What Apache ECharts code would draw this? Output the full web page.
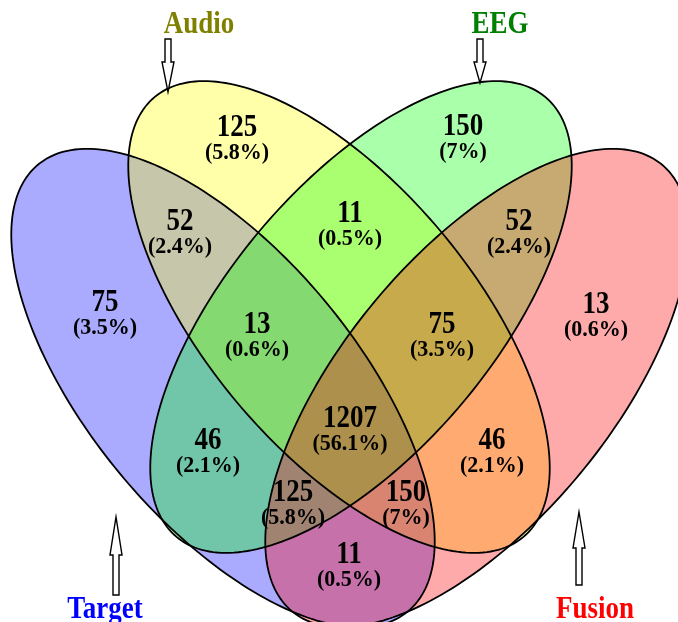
<!DOCTYPE html>
<html><head><meta charset="utf-8">
<script src="https://cdn.jsdelivr.net/npm/echarts@6/dist/echarts.min.js"></script>
<style>html,body{margin:0;padding:0;background:#fff}#c{width:678px;height:622px}</style>
</head><body><div id="c"></div>
<script>
// ---- data ----
const setNames = ['Target', 'Audio', 'EEG', 'Fusion'];
const regionNames = ['Audio only', 'EEG only', 'Target∩Audio', 'Audio∩EEG', 'EEG∩Fusion', 'Target only', 'Fusion only',
  'Target∩Audio∩EEG', 'Audio∩EEG∩Fusion', 'All four', 'Target∩EEG', 'Audio∩Fusion', 'Target∩EEG∩Fusion',
  'Target∩Audio∩Fusion', 'Target∩Fusion'];
const regionCounts = [125, 150, 52, 11, 52, 75, 13, 13, 75, 1207, 46, 46, 125, 150, 11];
const regionPct = ['(5.8%)', '(7%)', '(2.4%)', '(0.5%)', '(2.4%)', '(3.5%)', '(0.6%)', '(0.6%)', '(3.5%)', '(56.1%)',
  '(2.1%)', '(2.1%)', '(5.8%)', '(7%)', '(0.5%)'];

// ---- layout (data units = pixels) ----
const ellCx = [223, 339, 361, 477];
const ellCy = [388, 317, 317, 388];
const ellA = [290, 287, 287, 290];
const ellB = [134, 133, 133, 134];
const ellAngle = [50.4, 50, -50, -50.4];
const labelX = [237, 463, 180, 350, 519, 105, 596, 257, 442, 350, 208, 492, 293, 406, 349];
const labelY = [128, 127, 222, 214, 222, 303, 305, 325, 325, 419, 441, 441, 493, 493, 555];
const catX = [105, 199, 500, 595];
const catY = [610, 25, 25, 610];
const arrowX = [116, 168, 480, 579];
const arrowTip = [517, 92, 83, 512];
const arrowNeck = [555, 62, 62, 548];
const arrowTail = [595, 39, 39, 585];

// ---- styles ----
const setColors = ['#0000ff', '#808000', '#008000', '#ff0000'];
const setFills = ['rgba(0,0,255,0.333)', 'rgba(255,255,0,0.333)', 'rgba(0,255,0,0.333)', 'rgba(255,0,0,0.333)'];
const FONT = '"Liberation Serif","Times New Roman",serif';

function ellipsePoints(api) {
  const cx = api.value(0), cy = api.value(1), a = api.value(2), b = api.value(3), ang = api.value(4) * Math.PI / 180;
  const ca = Math.cos(ang), sa = Math.sin(ang);
  const pts = [];
  for (let k = 0; k < 240; k++) {
    const t = k / 240 * Math.PI * 2;
    const x = cx + a * Math.cos(t) * ca - b * Math.sin(t) * sa;
    const y = cy + a * Math.cos(t) * sa + b * Math.sin(t) * ca;
    pts.push(api.coord([x, y]));
  }
  return pts;
}

const ellData = setNames.map((n, i) => ({ name: n, value: [ellCx[i], ellCy[i], ellA[i], ellB[i], ellAngle[i], i] }));

const chart = echarts.init(document.getElementById('c'), null, { renderer: 'canvas' });
chart.setOption({
  animation: false,
  backgroundColor: '#ffffff',
  grid: { left: 0, right: 0, top: 0, bottom: 0 },
  xAxis: { type: 'value', min: 0, max: 678, show: false },
  yAxis: { type: 'value', min: 0, max: 622, inverse: true, show: false },
  series: [
    {
      type: 'custom', silent: true, clip: false, encode: { x: 0, y: 1 },
      data: ellData,
      renderItem: (params, api) => ({
        type: 'polygon', shape: { points: ellipsePoints(api) },
        style: { fill: setFills[api.value(5)], stroke: null }
      })
    },
    {
      type: 'custom', silent: true, clip: false, encode: { x: 0, y: 1 },
      data: ellData,
      renderItem: (params, api) => ({
        type: 'polygon', shape: { points: ellipsePoints(api) },
        style: { fill: null, stroke: '#000', lineWidth: 1.8 }
      })
    },
    {
      type: 'custom', silent: true, clip: false, encode: { x: 0, y: 1 },
      data: regionCounts.map((c, i) => [labelX[i], labelY[i], c, i]),
      renderItem: (params, api) => {
        const i = api.value(3);
        const p = api.coord([api.value(0), api.value(1)]);
        const q = api.coord([api.value(0), api.value(1) + 25]);
        return {
          type: 'group', children: [
            { type: 'text', x: p[0], y: p[1], scaleY: 1.15,
              style: { text: String(api.value(2)), x: 0, y: 0, align: 'center', verticalAlign: 'middle',
                fontFamily: FONT, fontWeight: 'bold', fontSize: 27, fill: '#000' } },
            { type: 'text', x: q[0], y: q[1], scaleY: 1.05,
              style: { text: regionPct[i], x: 0, y: 0, align: 'center', verticalAlign: 'middle',
                fontFamily: FONT, fontWeight: 'bold', fontSize: 22, fill: '#000' } }
          ]
        };
      }
    },
    {
      type: 'custom', silent: true, clip: false, encode: { x: 0, y: 1 },
      data: setNames.map((n, i) => [arrowX[i], arrowTip[i], arrowNeck[i], arrowTail[i]]),
      renderItem: (params, api) => {
        const x = api.value(0), tip = api.value(1), neck = api.value(2), tail = api.value(3);
        const pts = [[x - 3, tail], [x - 3, neck], [x - 6, neck], [x, tip], [x + 6, neck], [x + 3, neck], [x + 3, tail]]
          .map(pt => api.coord(pt));
        return { type: 'polygon', shape: { points: pts }, style: { fill: '#fff', stroke: '#000', lineWidth: 1.4 } };
      }
    },
    {
      type: 'custom', silent: true, clip: false, encode: { x: 0, y: 1 },
      data: setNames.map((n, i) => [catX[i], catY[i], i]),
      renderItem: (params, api) => {
        const i = api.value(2);
        const p = api.coord([api.value(0), api.value(1)]);
        return { type: 'text', x: p[0], y: p[1], scaleY: 1.18,
          style: { text: setNames[i], x: 0, y: 0, align: 'center', verticalAlign: 'middle',
            fontFamily: FONT, fontWeight: 'bold', fontSize: 27, fill: setColors[i] } };
      }
    }
  ]
});
</script>
</body></html>
